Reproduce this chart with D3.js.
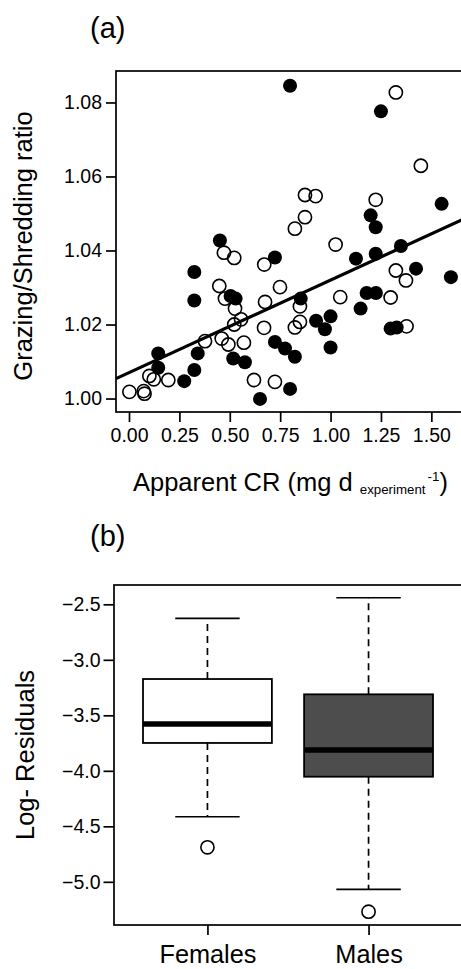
<!DOCTYPE html>
<html><head><meta charset="utf-8">
<script src="https://cdn.jsdelivr.net/npm/d3@7/dist/d3.min.js"></script>
<style>body{margin:0;background:#fff}svg{display:block}text{font-family:"Liberation Sans",Arial,sans-serif;fill:#000}</style>
</head><body>
<svg id="c" width="461" height="969"></svg>
<script>
// ---- Panel (a) data ----
const femaleX = [0.799,1.250,1.551,1.199,1.224,0.724,1.126,1.224,1.349,1.424,1.597,1.179,1.225,0.852,1.149,1.000,0.928,0.972,1.298,1.328,0.724,0.774,0.823,1.000,0.799,0.451,0.324,0.504,0.529,0.324,0.145,0.145,0.274,0.324,0.341,0.517,0.575,0.650];
const femaleY = [1.0845,1.0776,1.0526,1.0495,1.0463,1.0381,1.0378,1.0391,1.0412,1.0351,1.0328,1.0285,1.0285,1.0270,1.0243,1.0222,1.0210,1.0187,1.0189,1.0192,1.0153,1.0135,1.0113,1.0138,1.0026,1.0427,1.0342,1.0277,1.0270,1.0265,1.0122,1.0083,1.0047,1.0077,1.0122,1.0108,1.0098,0.9999];
const openX = [1.324,1.448,0.873,0.926,1.224,0.873,0.823,1.025,1.324,1.374,0.749,1.298,1.048,0.848,0.848,0.823,1.377,0.724,0.471,0.522,0.671,0.448,0.476,0.675,0.526,0.556,0.522,0.670,0.377,0.460,0.493,0.570,0.101,0.123,0.195,0.620,0.002,0.073,0.077];
const openY = [1.0827,1.0629,1.0550,1.0547,1.0537,1.0490,1.0459,1.0416,1.0346,1.0319,1.0301,1.0273,1.0274,1.0249,1.0207,1.0192,1.0195,1.0045,1.0394,1.0380,1.0362,1.0304,1.0270,1.0261,1.0243,1.0214,1.0200,1.0191,1.0155,1.0162,1.0146,1.0151,1.0061,1.0052,1.0050,1.0050,1.0018,1.0020,1.0013];
const regIntercept = 1.0070, regSlope = 0.0250;
const xTicksA = [0,0.25,0.5,0.75,1.0,1.25,1.5];
const yTicksA = [1.00,1.02,1.04,1.06,1.08];

// ---- Panel (b) data ----
const categories = ["Females","Males"];
const whiskerLow = [-4.414,-5.068];
const q1 = [-3.749,-4.053];
const median = [-3.578,-3.812];
const q3 = [-3.173,-3.311];
const whiskerHigh = [-2.626,-2.441];
const outliers = [[-4.689],[-5.269]];
const boxFill = ["#ffffff","#4d4d4d"];
const yTicksB = [-2.5,-3.0,-3.5,-4.0,-4.5,-5.0];

const svg = d3.select("#c");
const fmt2 = d3.format(".2f"), fmt1 = d3.format(".1f");

// ===== Panel (a) =====
const A = {l:116, r:464.5, t:71, b:412};
const xA = d3.scaleLinear().domain([-0.0645,1.6645]).range([A.l,A.r]);
const yA = d3.scaleLinear().domain([0.99636,1.0885]).range([A.b,A.t]);
const gA = svg.append("g");

gA.append("text").attr("x",90).attr("y",38).attr("font-size",29).text("(a)");

const axXA = d3.axisBottom(xA).tickValues(xTicksA).tickFormat(fmt2).tickSize(10).tickPadding(6);
const gx = gA.append("g").attr("transform",`translate(0,${A.b})`).call(axXA);
gx.select(".domain").remove();
gx.selectAll("line").attr("stroke","#000").attr("stroke-width",1.7);
gx.selectAll("text").attr("font-size",19.5).attr("font-family","Liberation Sans, Arial, sans-serif").attr("fill","#000");

const axYA = d3.axisLeft(yA).tickValues(yTicksA).tickFormat(fmt2).tickSize(10).tickPadding(4);
const gy = gA.append("g").attr("transform",`translate(${A.l},0)`).call(axYA);
gy.select(".domain").remove();
gy.selectAll("line").attr("stroke","#000").attr("stroke-width",1.7);
gy.selectAll("text").attr("font-size",19.5).attr("font-family","Liberation Sans, Arial, sans-serif").attr("fill","#000");

const ptsF = femaleX.map((x,i)=>({x, y:femaleY[i]}));
const ptsO = openX.map((x,i)=>({x, y:openY[i]}));
gA.append("g").selectAll("circle").data(ptsF).join("circle")
  .attr("cx",d=>xA(d.x)).attr("cy",d=>yA(d.y)).attr("r",7).attr("fill","#000");
gA.append("g").selectAll("circle").data(ptsO).join("circle")
  .attr("cx",d=>xA(d.x)).attr("cy",d=>yA(d.y)).attr("r",6.6).attr("fill","none")
  .attr("stroke","#000").attr("stroke-width",1.6);

const [x0,x1] = xA.domain();
gA.append("line").attr("x1",xA(x0)).attr("y1",yA(regIntercept+regSlope*x0))
  .attr("x2",xA(x1)).attr("y2",yA(regIntercept+regSlope*x1))
  .attr("stroke","#000").attr("stroke-width",3.2);

gA.append("rect").attr("x",A.l).attr("y",A.t).attr("width",A.r-A.l).attr("height",A.b-A.t)
  .attr("fill","none").attr("stroke","#000").attr("stroke-width",1.7);

gA.append("text").attr("transform",`translate(32,246) rotate(-90)`).attr("text-anchor","middle")
  .attr("font-size",25.5).text("Grazing/Shredding ratio");

const xt = gA.append("text").attr("x",133).attr("y",491).attr("font-size",25.5);
xt.append("tspan").text("Apparent CR (mg d ");
xt.append("tspan").attr("font-size",13.3).attr("dy",3).text("experiment");
xt.append("tspan").attr("font-size",13.3).attr("dy",-13).attr("dx",2).text("-1");
xt.append("tspan").attr("dy",10).text(")");

// ===== Panel (b) =====
const B = {l:114, r:462, t:585, b:925};
const xB = d3.scaleLinear().domain([0.42,2.58]).range([B.l,B.r]);
const yB = d3.scaleLinear().domain([-5.389,-2.326]).range([B.b,B.t]);
const gB = svg.append("g");

gB.append("text").attr("x",90).attr("y",546).attr("font-size",29).text("(b)");

const axYB = d3.axisLeft(yB).tickValues(yTicksB).tickFormat(fmt1).tickSize(10.5).tickPadding(3);
const gyb = gB.append("g").attr("transform",`translate(${B.l},0)`).call(axYB);
gyb.select(".domain").remove();
gyb.selectAll("line").attr("stroke","#000").attr("stroke-width",1.7);
gyb.selectAll("text").attr("font-size",19.5).attr("font-family","Liberation Sans, Arial, sans-serif").attr("fill","#000");

const axXB = d3.axisBottom(xB).tickValues([1,2]).tickFormat(i=>categories[i-1]).tickSize(10).tickPadding(10);
const gxb = gB.append("g").attr("transform",`translate(0,${B.b})`).call(axXB);
gxb.select(".domain").remove();
gxb.selectAll("line").attr("stroke","#000").attr("stroke-width",1.7);
gxb.selectAll("text").attr("font-size",25.3).attr("font-family","Liberation Sans, Arial, sans-serif").attr("fill","#000");

const boxes = categories.map((c,i)=>({c, pos:i+1, lo:whiskerLow[i], q1:q1[i], med:median[i], q3:q3[i], hi:whiskerHigh[i], out:outliers[i], fill:boxFill[i]}));
const bw = 0.8, cw = 0.4;
boxes.forEach(d=>{
  const g = gB.append("g");
  const cx = xB(d.pos);
  // whiskers
  g.append("line").attr("x1",cx).attr("x2",cx).attr("y1",yB(d.q3)).attr("y2",yB(d.hi))
    .attr("stroke","#000").attr("stroke-width",1.7).attr("stroke-dasharray","7,5");
  g.append("line").attr("x1",cx).attr("x2",cx).attr("y1",yB(d.q1)).attr("y2",yB(d.lo))
    .attr("stroke","#000").attr("stroke-width",1.7).attr("stroke-dasharray","7,5");
  [d.hi,d.lo].forEach(v=>g.append("line").attr("x1",xB(d.pos-cw/2)).attr("x2",xB(d.pos+cw/2))
    .attr("y1",yB(v)).attr("y2",yB(v)).attr("stroke","#000").attr("stroke-width",1.7));
  g.append("rect").attr("x",xB(d.pos-bw/2)).attr("width",xB(d.pos+bw/2)-xB(d.pos-bw/2))
    .attr("y",yB(d.q3)).attr("height",yB(d.q1)-yB(d.q3)).attr("fill",d.fill)
    .attr("stroke","#000").attr("stroke-width",1.8);
  g.append("line").attr("x1",xB(d.pos-bw/2)).attr("x2",xB(d.pos+bw/2))
    .attr("y1",yB(d.med)).attr("y2",yB(d.med)).attr("stroke","#000").attr("stroke-width",5.5);
  g.selectAll("circle.o").data(d.out).join("circle").attr("cx",cx).attr("cy",v=>yB(v))
    .attr("r",6.6).attr("fill","none").attr("stroke","#000").attr("stroke-width",1.6);
});

gB.append("rect").attr("x",B.l).attr("y",B.t).attr("width",B.r-B.l).attr("height",B.b-B.t)
  .attr("fill","none").attr("stroke","#000").attr("stroke-width",1.7);

gB.append("text").attr("transform",`translate(33.5,755) rotate(-90)`).attr("text-anchor","middle")
  .attr("font-size",25.5).text("Log- Residuals");
</script>
</body></html>
